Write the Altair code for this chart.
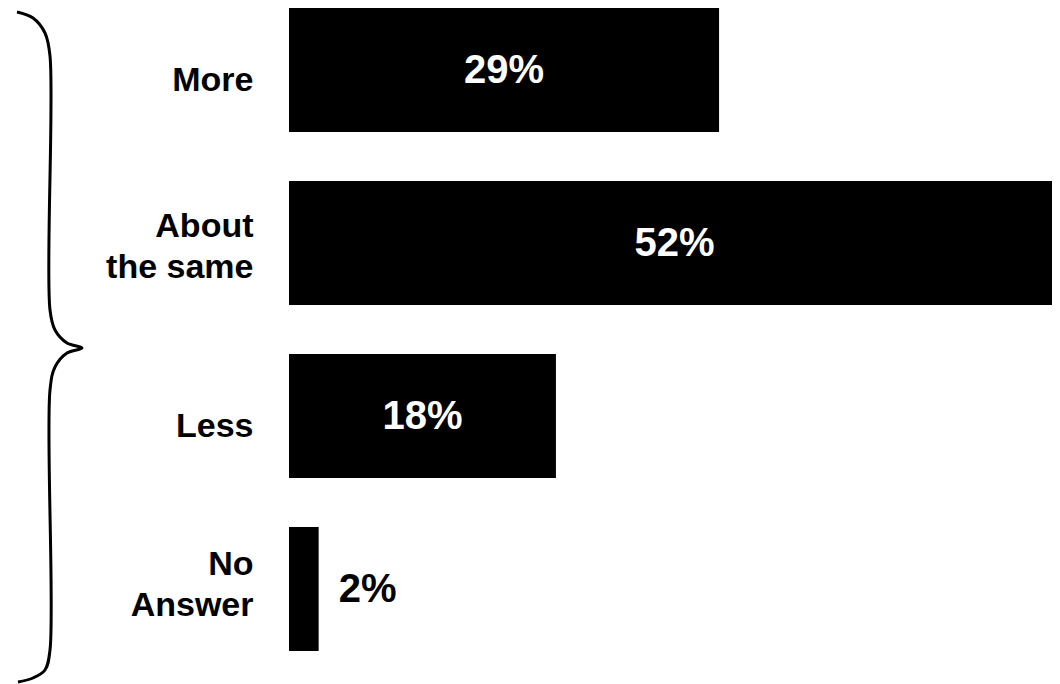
import altair as alt
import pandas as pd

# ---- data ----
categories = ["More", "About the same", "Less", "No Answer"]
values = [29, 52, 18, 2]

# decorative curly brace shape (page pixels)
brace_x = [17, 33, 45, 50, 50, 55, 67, 82, 67, 55, 50, 50, 45, 33, 18]
brace_y = [12, 18, 33, 56, 310, 330, 343, 348, 353, 367, 390, 650, 670, 678, 682]

PLOT_LEFT = 289
PLOT_TOP = 8
PLOT_W = 763
PLOT_H = 643
X_MAX = 51.45   # visible part of the value axis (the 52% bar runs to the edge)

FONT = "Liberation Sans"

df = pd.DataFrame({"cat": categories, "value": values})
brace = pd.DataFrame({
    "i": list(range(len(brace_x))),
    "bx": [x - PLOT_LEFT for x in brace_x],
    "by": [y - PLOT_TOP for y in brace_y],
})

label_expr = ("datum.label == 'About the same' ? ['About', 'the same'] : "
              "datum.label == 'No Answer' ? ['No', 'Answer'] : datum.label")

y_enc = alt.Y(
    "cat:N",
    sort=categories,
    scale=alt.Scale(paddingInner=0.283, paddingOuter=0),
    axis=alt.Axis(
        title=None, domain=False, ticks=False, grid=False,
        labelFont=FONT, labelFontSize=34, labelFontWeight="bold",
        labelColor="black", labelPadding=36, labelLimit=0,
        labelLineHeight=41, labelExpr=label_expr, labelAlign="right",
        labelBaseline="middle",
        labelOffset={
            "condition": [
                {"test": "datum.value == 'About the same'", "value": -16},
                {"test": "datum.value == 'No Answer'", "value": -24},
            ],
            "value": 11,
        },
    ),
)
x_scale = alt.Scale(domain=[0, X_MAX], nice=False, zero=True)

base = alt.Chart(df)

bars = base.mark_bar(color="black", cornerRadius=0).encode(
    x=alt.X("value:Q", scale=x_scale, axis=None),
    y=y_enc,
)

inside = base.transform_filter("datum.value >= 5").transform_calculate(
    mid="datum.value / 2", lbl="datum.value + '%'"
).mark_text(
    font=FONT, fontSize=40, fontWeight="bold", color="white",
    align="center", baseline="middle", dy=1,
).encode(
    x=alt.X("mid:Q", scale=x_scale, axis=None),
    y=alt.Y("cat:N", sort=categories),
    text="lbl:N",
)

outside = base.transform_filter("datum.value < 5").transform_calculate(
    lbl="datum.value + '%'"
).mark_text(
    font=FONT, fontSize=40, fontWeight="bold", color="black",
    align="left", baseline="middle", dx=20, dy=1,
).encode(
    x=alt.X("value:Q", scale=x_scale, axis=None),
    y=alt.Y("cat:N", sort=categories),
    text="lbl:N",
)

main = alt.layer(bars, inside, outside)

brace_line = alt.Chart(brace).mark_line(
    color="black", strokeWidth=3, interpolate="catmull-rom"
).encode(
    x=alt.X("bx:Q", scale=None, axis=None),
    y=alt.Y("by:Q", scale=None, axis=None),
    order="i:O",
)

chart = alt.layer(main, brace_line).resolve_scale(
    x="independent", y="independent"
).properties(
    width=PLOT_W, height=PLOT_H,
    autosize=alt.AutoSizeParams(type="none"),
    padding={"left": PLOT_LEFT - 8, "top": PLOT_TOP - 8, "right": 0, "bottom": 33},
    background="white",
).configure_view(stroke=None)

chart.save("out.html", embed_options={"renderer": "svg", "actions": False})
